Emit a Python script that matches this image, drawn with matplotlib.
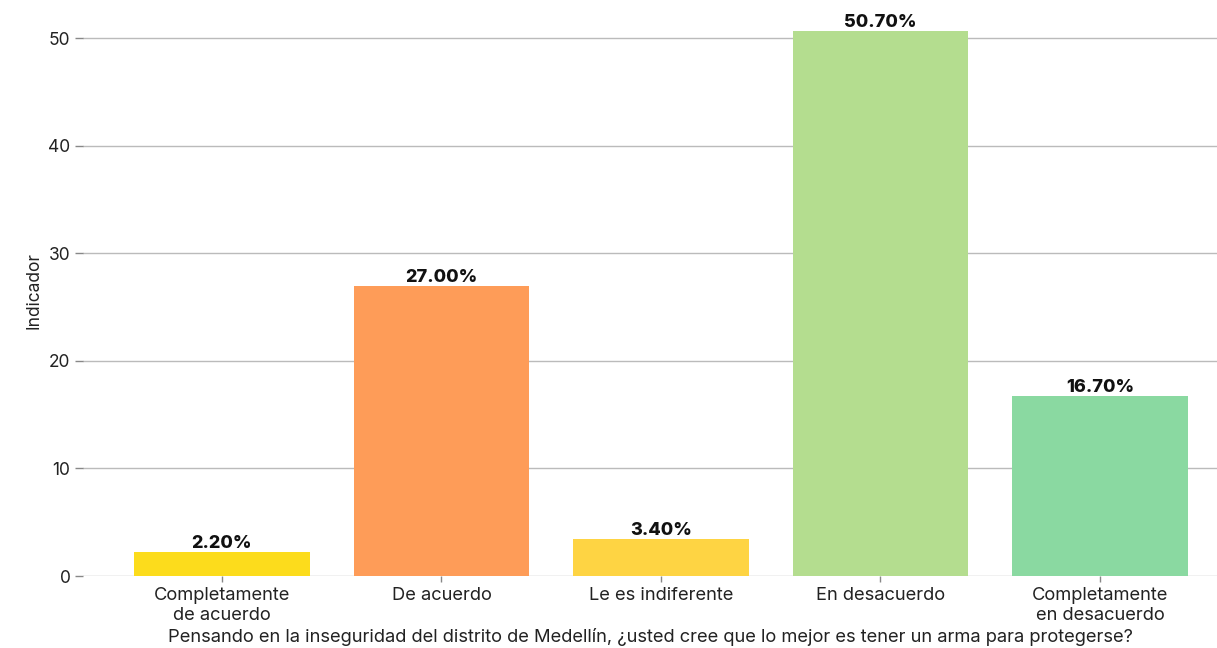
import matplotlib
matplotlib.use("Agg")
import matplotlib.pyplot as plt

categories = ["Completamente\nde acuerdo", "De acuerdo", "Le es indiferente",
              "En desacuerdo", "Completamente\nen desacuerdo"]
values = [2.2, 27.0, 3.4, 50.7, 16.7]
colors = ["#FCDC1C", "#FE9C58", "#FED443", "#B4DD8F", "#8AD9A1"]
yticks = [0, 10, 20, 30, 40, 50]
xlabel = "Pensando en la inseguridad del distrito de Medellín, ¿usted cree que lo mejor es tener un arma para protegerse?"
ylabel = "Indicador"

plt.rcParams["font.family"] = ["Inter", "DejaVu Sans"]

fig = plt.figure(figsize=(12.17, 6.48), dpi=100)
ax = fig.add_axes([0.0682, 0.1111, 0.9318, 0.8827])

x = list(range(len(categories)))
bars = ax.bar(x, values, width=0.8, color=colors, zorder=3)

for xi, v in zip(x, values):
    ax.annotate(f"{v:.2f}%", (xi, v), xytext=(0, 0), textcoords="offset points",
                ha="center", va="bottom", fontsize=13, fontweight="heavy",
                color="#111111", zorder=4)

ax.set_xlim(-0.633, 4.533)
ax.set_ylim(0, 53.2)
ax.set_yticks(yticks)
ax.set_yticklabels([str(t) for t in yticks], fontsize=12.5, color="#222222")
ax.set_xticks(x)
ax.set_xticklabels(categories, fontsize=13.2, color="#222222", linespacing=1.2)

ax.grid(axis="y", color="#BBBBBB", linewidth=1.0, zorder=0)
ax.tick_params(axis="y", length=6, width=1, color="#888888", pad=3)
ax.tick_params(axis="x", length=4, width=1, color="#888888", pad=4)
for s in ax.spines.values():
    s.set_visible(False)

ax.set_xlabel(xlabel, fontsize=13.2, color="#222222", labelpad=3)
ax.set_ylabel(ylabel, fontsize=12.5, color="#222222", labelpad=4)

fig.savefig("out.png", dpi=100, facecolor="white")
